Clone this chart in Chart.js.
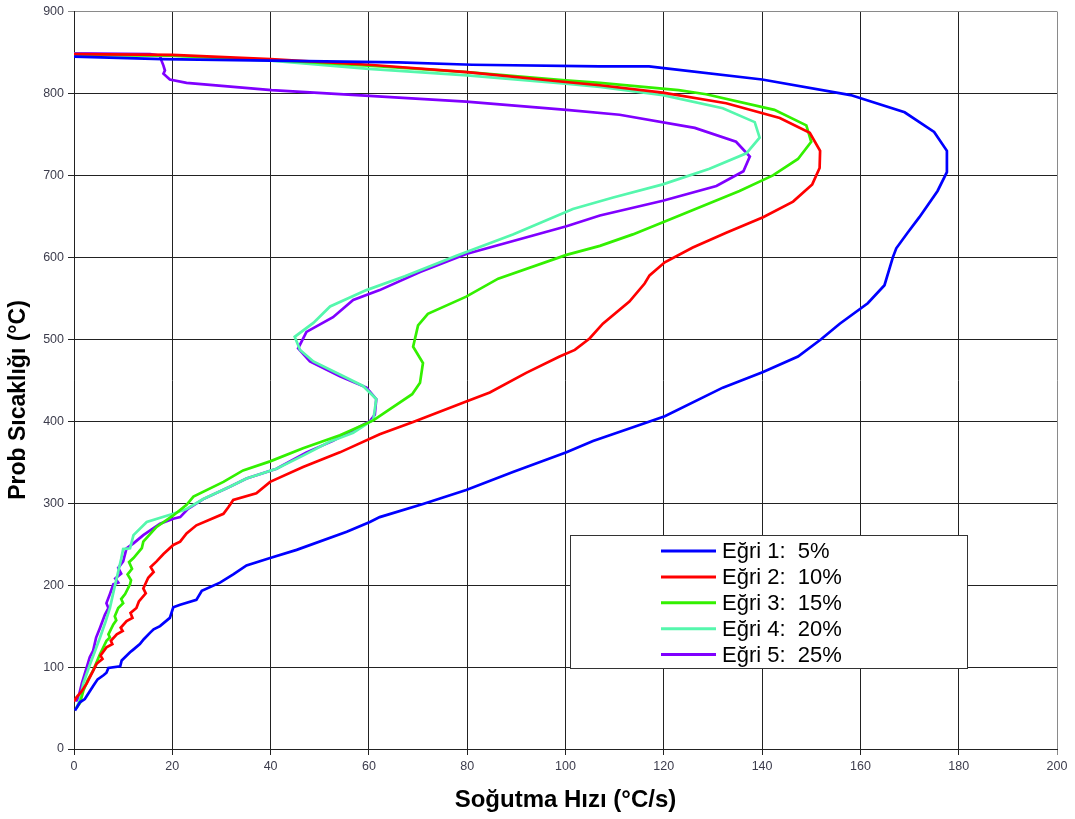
<!DOCTYPE html>
<html>
<head>
<meta charset="utf-8">
<title>Soğutma eğrileri</title>
<script src="https://cdn.jsdelivr.net/npm/chart.js@4.4.0/dist/chart.umd.min.js"></script>
<style>
  body { margin: 0; background: #fff; }
</style>
</head>
<body>
<canvas id="chart" width="1075" height="819"></canvas>
<script>
// each curve: [cooling rate (°C/s), probe temperature (°C)]
const curve1 = [[0,845],[18,842],[40,840],[66,838],[81,835],[107,833],[117,833],[120,831],[140,817],[158,798],[169,777],[175,753],[177.6,730],[177.6,704],[175.7,681],[172,649],[169.6,630],[167.3,611],[166.6,600],[164.9,566],[161.5,544],[155.8,519],[152,500],[147.3,479],[140.2,460],[132,441],[120.2,406],[112.4,390],[105.6,376],[100.2,362],[89.3,338],[79.8,316],[71,299],[62.2,283],[60.2,277],[55.5,265],[45.3,243],[39.9,233],[35.1,224],[32.4,213],[29.7,203],[26,193],[24.9,182],[21.6,176],[20.2,173],[19.5,160],[17.5,150],[16.2,146],[15.5,142],[14.2,134],[13.4,128],[12,121],[11.4,118],[9.7,108],[9.4,101],[7,99],[6.6,93],[6,90],[4.8,85],[3.9,77],[2.2,61],[1.2,57],[0.2,47]]
const curve2 = [[0,848],[20,847],[40,842],[60,835],[80,826],[100,814],[107,810],[119.8,801],[132.7,788],[143.6,770],[149.7,752],[151.8,730],[151.7,709],[150.2,689],[146.3,668],[140.2,649],[132.7,630],[125.9,612],[120.2,594],[117.1,578],[116.1,568],[113,546],[107.6,519],[104.9,501],[101.9,487],[98.8,479],[92,459],[84.6,435],[79.8,424],[69,399],[62.2,384],[54.1,362],[46.6,344],[39.9,326],[37.1,312],[32.4,304],[31.4,295],[30.4,287],[24.9,273],[22.9,263],[21.6,253],[20.2,249],[18.2,238],[16.8,229],[15.6,222],[16.2,216],[15.1,209],[14.1,196],[14.6,190],[13.2,180],[12.7,172],[11.5,166],[11.9,160],[10.7,156],[9.5,148],[9.9,144],[8.7,140],[7.5,132],[7.8,128],[6.6,124],[5.4,114],[5.8,110],[4.6,104],[3.6,92],[2.6,80],[1.5,70],[0.5,63],[0,58]]
const curve3 = [[0,847],[20,846],[40,841],[60,834],[80,826],[100,816],[107,813],[123,804],[128.6,799],[142.5,780],[149,761],[150,741],[147.3,720],[142.2,700],[135.4,681],[123.2,651],[113.7,628],[107,614],[100.2,603],[86.3,574],[79.8,552],[72,531],[70,517],[69,491],[71,471],[70.4,447],[68.8,433],[63.6,412],[60.9,401],[54.1,383],[46.6,367],[39.9,351],[34.4,340],[30.4,326],[24.3,308],[22.9,298],[20.2,285],[16.8,271],[14.1,253],[13.8,245],[12.1,233],[11.2,228],[11.8,220],[10.9,213],[11.6,206],[11.4,201],[10.4,189],[9.6,183],[10,178],[9,172],[8.3,162],[8.6,157],[8,152],[7,140],[7.3,136],[6.6,132],[5.8,122],[5.3,116],[3.9,96],[2.8,84],[1.9,71],[1.2,56],[0.5,50]]
const curve4 = [[0,848],[20,846],[40,840],[60,830],[80,822],[100,812],[107,808],[119.8,798],[132,782],[138.5,765],[139.5,746],[136.8,727],[129.3,708],[119.8,689],[109.7,673],[101.5,659],[89.3,628],[77.8,602],[67.3,577],[59.5,560],[52.1,540],[48.7,520],[44.9,503],[46,487],[48.7,473],[54.1,457],[58.8,443],[61.5,427],[60.9,402],[56.8,386],[52,375],[46.6,358],[41.2,342],[35.1,330],[31.7,320],[26.3,305],[22.9,293],[20.2,287],[14.8,277],[12.1,261],[11.4,245],[10,244],[9.6,232],[8.7,209],[8.2,196],[7.3,172],[6.4,155],[5.3,136],[4.3,120],[3.3,104],[1.9,80],[1.2,60],[0.5,50]]
const curve5 = [[0,849],[15.5,848],[17.5,846],[17.8,840],[18.2,834],[18.5,828],[18.2,824],[19.5,817],[22.9,813],[40.2,804],[60.1,797],[79.8,790],[100.2,780],[111,774],[126.3,758],[134.7,741],[137.5,723],[136.2,705],[130.7,687],[119.8,669],[107,651],[100.2,638],[79.8,604],[70.4,582],[62.2,560],[56.8,548],[52.7,527],[47.3,509],[45.6,489],[48,473],[54.1,455],[59.5,441],[61.5,427],[61.2,408],[60.2,400],[52.7,376],[47.3,362],[41.2,342],[35.1,330],[31.7,320],[26.3,305],[23.2,293],[21.6,283],[20.2,281],[17.5,275],[14.1,261],[12.1,251],[10.7,245],[10,229],[9,221],[9.6,214],[8.4,208],[9,203],[8,201],[7.6,194],[7.3,189],[6.6,178],[7,172],[6.3,164],[5.3,148],[4.5,136],[3.9,120],[3.2,112],[2.6,100],[1.6,80],[0.9,63],[0.4,58]]

const labels = ["Eğri 1:  5%", "Eğri 2:  10%", "Eğri 3:  15%", "Eğri 4:  20%", "Eğri 5:  25%"]
const colors = ["#0000ff", "#ff0000", "#33f000", "#55f7ad", "#8000ff"]
const curves = [curve1, curve2, curve3, curve4, curve5]

const xTitle = "Soğutma Hızı (°C/s)"
const yTitle = "Prob Sıcaklığı (°C)"

const datasets = curves.map((c, i) => ({
  label: labels[i],
  data: c.map(p => ({ x: p[0], y: p[1] })),
  borderColor: colors[i],
  backgroundColor: colors[i],
  borderWidth: 2.7,
  showLine: true,
  pointRadius: 0,
  tension: 0
}))

// axis titles + boxed legend inside the plot
const extras = {
  id: "extras",
  afterDraw(chart) {
    const ctx = chart.ctx
    const a = chart.chartArea
    ctx.save()
    ctx.fillStyle = "#000"
    ctx.textAlign = "center"
    ctx.textBaseline = "middle"
    ctx.font = "bold 24px 'Liberation Sans', Arial, sans-serif"
    ctx.fillText(xTitle, (a.left + a.right) / 2, 800)
    ctx.font = "bold 23px 'Liberation Sans', Arial, sans-serif"
    ctx.translate(19, 400)
    ctx.rotate(-Math.PI / 2)
    ctx.fillText(yTitle, 0, 0)
    ctx.restore()

    ctx.save()
    ctx.fillStyle = "#fff"
    ctx.fillRect(570.5, 535.5, 397, 133)
    ctx.strokeStyle = "#333"
    ctx.lineWidth = 1
    ctx.strokeRect(570.5, 535.5, 397, 133)
    ctx.font = "22px 'Liberation Sans', Arial, sans-serif"
    ctx.textAlign = "left"
    ctx.textBaseline = "middle"
    chart.data.datasets.forEach((ds, i) => {
      const y = 551 + i * 25.9
      ctx.strokeStyle = ds.borderColor
      ctx.lineWidth = 3
      ctx.beginPath()
      ctx.moveTo(661, y)
      ctx.lineTo(716, y)
      ctx.stroke()
      ctx.fillStyle = "#000"
      ctx.fillText(ds.label, 722, y + 1)
    })
    ctx.restore()
  }
}

const gridColor = (max) => (c) => c.tick && c.tick.value === max ? "#8a8a8a" : "#222"

new Chart(document.getElementById("chart"), {
  type: "scatter",
  data: { datasets },
  options: {
    responsive: false,
    animation: false,
    layout: { padding: { top: 6, right: 18, left: 0, bottom: 0 } },
    plugins: { legend: { display: false }, tooltip: { enabled: false } },
    scales: {
      x: {
        type: "linear",
        min: 0,
        max: 200,
        ticks: { stepSize: 20, color: "#3c3c4c", font: { size: 12.5, family: "'Liberation Sans', Arial" }, padding: 4 },
        grid: { color: gridColor(200), lineWidth: 1, tickLength: 6 },
        border: { color: "#222" },
        afterFit(s) { s.height = 70 }
      },
      y: {
        type: "linear",
        min: 0,
        max: 900,
        ticks: { stepSize: 100, color: "#3c3c4c", font: { size: 12.5, family: "'Liberation Sans', Arial" }, padding: 4 },
        grid: { color: gridColor(900), lineWidth: 1, tickLength: 6 },
        border: { color: "#222" },
        afterFit(s) { s.width = 74 }
      }
    }
  },
  plugins: [extras]
})
</script>
</body>
</html>
